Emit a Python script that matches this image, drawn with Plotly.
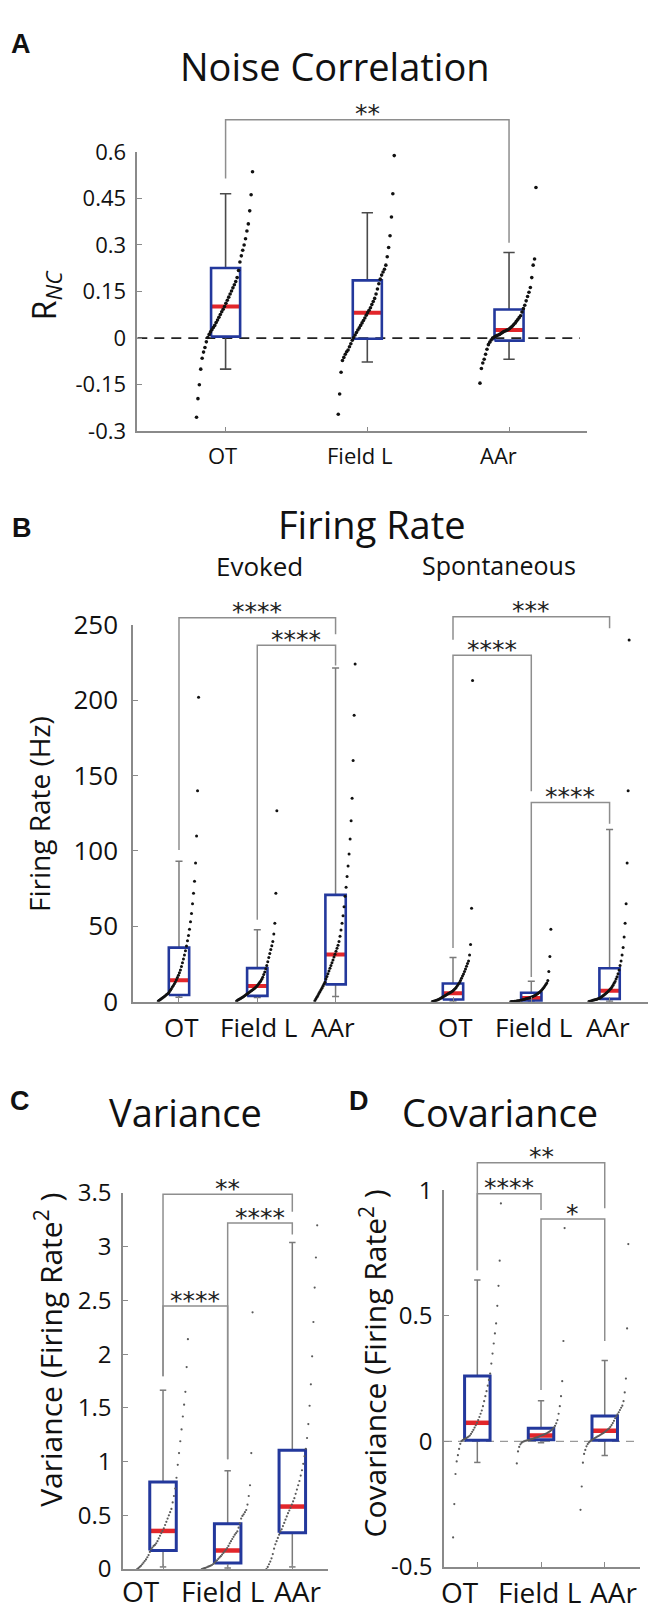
import plotly.graph_objects as go

# ============================ DATA ============================
categories = ["OT", "Field L", "AAr"]
fr_conditions = ["Evoked", "Spontaneous"]

nc_ticks = [-0.3, -0.15, 0, 0.15, 0.3, 0.45, 0.6]
nc_ticklabels = ["-0.3", "-0.15", "0", "0.15", "0.3", "0.45", "0.6"]
fr_ticks = [0, 50, 100, 150, 200, 250]
fr_ticklabels = ["0", "50", "100", "150", "200", "250"]
var_ticks = [0, 0.5, 1, 1.5, 2, 2.5, 3, 3.5]
var_ticklabels = ["0", "0.5", "1", "1.5", "2", "2.5", "3", "3.5"]
cov_ticks = [-0.5, 0, 0.5, 1]
cov_ticklabels = ["-0.5", "0", "0.5", "1"]

# ---- A: noise correlation (box statistics per region) ----
nc_q1 = [0.005, -0.002, -0.008]
nc_median = [0.102, 0.082, 0.026]
nc_q3 = [0.226, 0.186, 0.092]
nc_lower = [-0.100, -0.077, -0.068]
nc_upper = [0.465, 0.404, 0.276]
# sorted pair values (dotted curves)
nc_OT = [-0.255, -0.195, -0.150, -0.100, -0.065, -0.045, -0.030, -0.012, 0.002, 0.012, 0.020,
         0.027, 0.034, 0.041, 0.050, 0.058, 0.067, 0.076, 0.085, 0.093, 0.102, 0.112, 0.122,
         0.132, 0.142, 0.152, 0.162, 0.172, 0.182, 0.195, 0.218, 0.245, 0.265, 0.283, 0.300,
         0.320, 0.345, 0.368, 0.410, 0.462, 0.536]
nc_FieldL = [-0.245, -0.180, -0.110, -0.072, -0.062, -0.052, -0.044, -0.038, -0.028, -0.018,
             -0.007, 0.002, 0.010, 0.018, 0.026, 0.033, 0.041, 0.049, 0.057, 0.065, 0.074, 0.082,
             0.090, 0.098, 0.108, 0.118, 0.128, 0.142, 0.158, 0.175, 0.190, 0.203, 0.213, 0.222,
             0.235, 0.262, 0.292, 0.330, 0.390, 0.465, 0.588]
nc_AAr = [-0.145, -0.098, -0.080, -0.068, -0.052, -0.036, -0.021, -0.013, -0.006, 0.000, 0.003,
          0.006, 0.008, 0.010, 0.012, 0.015, 0.018, 0.021, 0.023, 0.025, 0.027, 0.030, 0.034,
          0.038, 0.043, 0.048, 0.054, 0.060, 0.066, 0.072, 0.084, 0.095, 0.106, 0.120, 0.134,
          0.148, 0.163, 0.195, 0.235, 0.255, 0.485]
nc_sig = ["**"]

# ---- B: firing rate (Evoked OT, Field L, AAr, Spontaneous OT, Field L, AAr) ----
fr_q1 = [4.5, 3.9, 11.5, 1.5, 0.7, 1.9]
fr_median = [14.3, 10.4, 31.3, 5.6, 2.4, 7.3]
fr_q3 = [35.9, 22.3, 70.9, 12.1, 6.0, 22.2]
fr_lower = [3.0, 2.8, 3.4, 0.5, 0.3, 0.4]
fr_upper = [93.2, 47.8, 221.3, 29.4, 13.6, 114.3]
fr_ev_OT = [0.5, 1.0, 1.5, 2.0, 2.5, 3.0, 3.5, 4.0, 4.6, 5.1, 5.7, 6.6, 7.6, 8.6, 9.7, 10.8, 11.9,
            13.1, 14.5, 16.0, 17.5, 19.2, 21.0, 23.3, 25.8, 28.4, 31.0, 33.8, 37.0, 40.5, 44.0,
            48.0, 53.0, 58.5, 65.0, 72.0, 80.0, 92.0, 110.0, 140.0, 202.0]
fr_ev_FieldL = [0.5, 1.0, 1.4, 1.8, 2.2, 2.6, 3.0, 3.4, 3.9, 4.4, 5.0, 5.5, 6.0, 6.5, 7.0, 7.5,
                8.0, 8.5, 8.9, 9.6, 10.3, 11.1, 12.0, 12.9, 13.8, 14.9, 16.3, 18.0, 19.8, 21.8,
                24.0, 26.6, 29.4, 32.0, 34.6, 37.2, 40.0, 45.0, 52.0, 72.0, 126.7]
fr_ev_AAr = [0.6, 1.8, 3.0, 4.2, 5.4, 6.6, 7.8, 9.0, 10.3, 11.6, 13.0, 15.0, 16.8, 18.6, 20.4,
             22.2, 24.0, 25.8, 27.7, 29.7, 31.5, 33.5, 35.5, 37.5, 40.0, 43.5, 47.5, 52.0, 57.0,
             63.0, 70.0, 76.0, 83.0, 90.0, 98.0, 108.0, 120.0, 135.0, 160.0, 190.0, 224.0]
fr_sp_OT = [0.1, 0.3, 0.5, 0.7, 0.9, 1.2, 1.5, 1.8, 2.2, 2.6, 3.0, 3.4, 3.8, 4.2, 4.6, 5.0, 5.4,
            5.8, 6.2, 6.6, 7.0, 7.6, 8.3, 9.0, 9.8, 10.7, 11.7, 12.8, 14.0, 15.5, 17.0, 18.4,
            20.0, 21.7, 23.5, 25.3, 27.0, 31.0, 38.0, 62.0, 213.0]
fr_sp_FieldL = [0.0, 0.1, 0.15, 0.2, 0.3, 0.4, 0.5, 0.6, 0.7, 0.8, 0.9, 1.1, 1.3, 1.5, 1.7, 1.9,
                2.1, 2.3, 2.5, 2.7, 2.9, 3.2, 3.5, 3.8, 4.1, 4.5, 4.9, 5.4, 5.9, 6.5, 7.1, 7.8,
                8.6, 9.5, 10.5, 11.5, 12.5, 14.0, 20.0, 30.0, 48.0]
fr_sp_AAr = [0.1, 0.3, 0.5, 0.7, 0.9, 1.1, 1.3, 1.5, 1.7, 1.9, 2.1, 2.5, 2.9, 3.4, 3.9, 4.4, 5.0,
             5.6, 6.2, 6.8, 7.4, 8.2, 9.0, 10.0, 11.0, 12.2, 13.5, 15.0, 16.5, 18.5, 21.0, 24.0,
             27.0, 31.0, 36.0, 43.0, 52.0, 65.0, 92.0, 140.0, 240.0]
fr_sig = ["****", "****", "***", "****", "****"]

# ---- C: variance ----
var_q1 = [0.173, 0.057, 0.339]
var_median = [0.355, 0.173, 0.582]
var_q3 = [0.81, 0.421, 1.107]
var_lower = [0.02, 0.01, 0.02]
var_upper = [1.665, 0.915, 3.04]
var_OT = [0.00, 0.01, 0.02, 0.03, 0.045, 0.06, 0.075, 0.09, 0.11, 0.13, 0.16, 0.185, 0.20, 0.215,
          0.225, 0.24, 0.26, 0.285, 0.31, 0.335, 0.355, 0.38, 0.41, 0.44, 0.47, 0.50, 0.53, 0.56,
          0.62, 0.68, 0.75, 0.85, 0.97, 1.08, 1.19, 1.30, 1.42, 1.53, 1.65, 1.88, 2.14]
var_FieldL = [0.00, 0.004, 0.008, 0.012, 0.017, 0.022, 0.027, 0.032, 0.038, 0.047, 0.058, 0.07,
              0.082, 0.095, 0.108, 0.12, 0.135, 0.15, 0.165, 0.18, 0.196, 0.215, 0.24, 0.26, 0.28,
              0.30, 0.32, 0.335, 0.35, 0.385, 0.425, 0.47, 0.495, 0.51, 0.53, 0.55, 0.60, 0.68,
              0.78, 1.08, 2.39]
var_AAr = [0.00, 0.02, 0.045, 0.07, 0.10, 0.14, 0.19, 0.23, 0.26, 0.29, 0.32, 0.35, 0.37, 0.40,
           0.43, 0.46, 0.49, 0.52, 0.545, 0.57, 0.60, 0.63, 0.66, 0.70, 0.74, 0.78, 0.82, 0.87,
           0.92, 0.98, 1.05, 1.12, 1.22, 1.35, 1.52, 1.72, 1.98, 2.30, 2.62, 2.90, 3.20]
var_sig = ["**", "****", "****"]

# ---- D: covariance ----
cov_q1 = [0.004, 0.006, 0.004]
cov_median = [0.074, 0.023, 0.042]
cov_q3 = [0.26, 0.052, 0.101]
cov_lower = [-0.084, -0.006, -0.056]
cov_upper = [0.643, 0.162, 0.322]
cov_OT = [-0.383, -0.25, -0.13, -0.08, -0.055, -0.03, -0.01, 0.001, 0.005, 0.008, 0.010, 0.013,
          0.016, 0.019, 0.023, 0.030, 0.038, 0.046, 0.055, 0.064, 0.074, 0.085, 0.097, 0.11,
          0.123, 0.14, 0.16, 0.18, 0.20, 0.222, 0.245, 0.27, 0.31, 0.35, 0.39, 0.43, 0.47, 0.54,
          0.62, 0.72, 0.948]
cov_FieldL = [-0.088, -0.04, -0.022, -0.012, -0.006, -0.002, 0.000, 0.002, 0.003, 0.004, 0.005,
              0.006, 0.008, 0.009, 0.011, 0.013, 0.015, 0.016, 0.018, 0.020, 0.022, 0.024, 0.026,
              0.028, 0.030, 0.032, 0.035, 0.038, 0.041, 0.045, 0.050, 0.055, 0.062, 0.072, 0.085,
              0.11, 0.14, 0.18, 0.24, 0.40, 0.85]
cov_AAr = [-0.273, -0.18, -0.085, -0.05, -0.034, -0.02, -0.011, -0.005, 0.000, 0.004, 0.007,
           0.010, 0.013, 0.016, 0.019, 0.021, 0.024, 0.027, 0.030, 0.033, 0.036, 0.040, 0.044,
           0.048, 0.052, 0.058, 0.065, 0.073, 0.082, 0.092, 0.100, 0.108, 0.116, 0.125, 0.134,
           0.142, 0.16, 0.195, 0.25, 0.45, 0.786]
cov_sig = ["**", "****", "*"]

# ============================ LAYOUT / STYLE ============================
W, H = 656, 1612
FONT = "Open Sans"
STAR_FONT = "DejaVu Sans"
BLUE = "#23389c"
RED = "#e2262b"
AXIS_GREY = "#8a8a8a"
BRACKET_GREY = "#8e8e8e"


def fx(p):
    return p / W


def fy(p):
    return 1 - p / H


PANELS = [
    dict(x="x", y="y", ye="y5", xdom=(129.3, 578.7), xr=(0.377, 3.548),
         ydom=(127.7, 413.5), yr=(-0.3, 0.6), ext_top=85,
         ticks=nc_ticks, ticklabels=nc_ticklabels, tickfont=22, standoff=5,
         pos=[1, 2, 3], q1=nc_q1, med=nc_median, q3=nc_q3, lo=nc_lower, hi=nc_upper,
         pts=[nc_OT, nc_FieldL, nc_AAr], dot_off=(-0.205, 0.19), box_w=0.205, cap_hw=0.04,
         whisk_col="#4a4a4a", whisk_w=1.6, box_lw=2.6, med_lw=4,
         dot_col="#111111", dot_size=3.6, zero=dict(color="#222222", dash="10px,7px", width=1.6),
         brackets=[(1, 3, 0.703, 0.514, 0.307)], sig=nc_sig),
    dict(x="x2", y="y2", ye="y6", xdom=(125.0, 644.4), xr=(0.4125, 7.047),
         ydom=(611.5, 997.0), yr=(0, 250), ext_top=595,
         ticks=fr_ticks, ticklabels=fr_ticklabels, tickfont=26, standoff=8,
         pos=[1, 2, 3, 4.5, 5.5, 6.5], q1=fr_q1, med=fr_median, q3=fr_q3, lo=fr_lower, hi=fr_upper,
         pts=[fr_ev_OT, fr_ev_FieldL, fr_ev_AAr, fr_sp_OT, fr_sp_FieldL, fr_sp_AAr],
         dot_off=(-0.265, 0.25), box_w=0.26, cap_hw=0.045,
         whisk_col="#7a7a7a", whisk_w=1.5, box_lw=2.6, med_lw=4,
         dot_col="#111111", dot_size=3.0, zero=None,
         brackets=[(1, 3, 254.7, 100.7, 243.8), (2, 3, 236.4, 54.3, 223.1),
                   (4.5, 6.5, 255.3, 240.1, 247.7), (4.5, 5.5, 229.8, 35.7, 139.6),
                   (5.5, 6.5, 132.1, 16.4, 118.0)], sig=fr_sig),
    dict(x="x3", y="y3", ye="y7", xdom=(115.0, 320.0), xr=(0.381, 3.552),
         ydom=(1192.7, 1577.3), yr=(0, 3.5), ext_top=1180,
         ticks=var_ticks, ticklabels=var_ticklabels, tickfont=24, standoff=5,
         pos=[1, 2, 3], q1=var_q1, med=var_median, q3=var_q3, lo=var_lower, hi=var_upper,
         pts=[var_OT, var_FieldL, var_AAr], dot_off=(-0.40, 0.385), box_w=0.41, cap_hw=0.05,
         whisk_col="#7a7a7a", whisk_w=1.5, box_lw=3, med_lw=4.5,
         dot_col="#5a5a5a", dot_size=2.2, zero=None,
         brackets=[(1, 3, 3.488, 1.795, 3.327), (2, 3, 3.221, 1.022, 3.115),
                   (1, 2, 2.448, 1.795, 1.022)], sig=var_sig),
    dict(x="x4", y="y4", ye="y8", xdom=(436.0, 631.7), xr=(0.477, 3.549),
         ydom=(1190.0, 1575.0), yr=(-0.5, 1.0), ext_top=1150,
         ticks=cov_ticks, ticklabels=cov_ticklabels, tickfont=24, standoff=5,
         pos=[1, 2, 3], q1=cov_q1, med=cov_median, q3=cov_q3, lo=cov_lower, hi=cov_upper,
         pts=[cov_OT, cov_FieldL, cov_AAr], dot_off=(-0.38, 0.37), box_w=0.40, cap_hw=0.05,
         whisk_col="#7a7a7a", whisk_w=1.5, box_lw=3, med_lw=4.5,
         dot_col="#5a5a5a", dot_size=2.2, zero=dict(color="#9a9a9a", dash="8px,6px", width=1.3),
         brackets=[(1, 3, 1.110, 0.682, 0.929), (1, 2, 0.987, 0.682, 0.922),
                   (2, 3, 0.886, 0.205, 0.400)], sig=cov_sig),
]

fig = go.Figure()
layout_axes = {}
annotations = []


def akey(prefix, ref):
    return prefix + ref[1:]


for P in PANELS:
    xa, ya, ye = P["x"], P["y"], P["ye"]
    y_top, y_bot = P["ydom"]
    r0, r1 = P["yr"]
    per_px = (r1 - r0) / (y_bot - y_top)
    ext_r1 = r1 + (y_top - P["ext_top"]) * per_px

    layout_axes[akey("xaxis", xa)] = dict(
        domain=[fx(P["xdom"][0]), fx(P["xdom"][1])], range=list(P["xr"]), anchor=ya,
        showline=True, linecolor=AXIS_GREY, linewidth=1.5, showgrid=False, zeroline=False,
        ticks="inside", ticklen=5, tickcolor=AXIS_GREY, tickwidth=1.2,
        tickvals=P["pos"], showticklabels=False, fixedrange=True)
    layout_axes[akey("yaxis", ya)] = dict(
        domain=[fy(y_bot), fy(y_top)], range=[r0, r1], anchor=xa,
        showline=True, linecolor=AXIS_GREY, linewidth=1.5, showgrid=False, zeroline=False,
        ticks="inside", ticklen=5, tickcolor=AXIS_GREY, tickwidth=1.2,
        tickvals=P["ticks"], ticktext=P["ticklabels"], ticklabelstandoff=P["standoff"],
        tickfont=dict(family=FONT, size=P["tickfont"], color="#111111"), fixedrange=True)
    layout_axes[akey("yaxis", ye)] = dict(
        domain=[fy(y_bot), fy(P["ext_top"])], range=[r0, ext_r1], anchor=xa,
        visible=False, showgrid=False, zeroline=False, fixedrange=True)

    # zero reference line
    if P["zero"] is not None:
        z = P["zero"]
        fig.add_trace(go.Scatter(x=[P["xr"][0], 3.5], y=[0, 0], mode="lines", xaxis=xa, yaxis=ya,
                                 line=dict(color=z["color"], dash=z["dash"], width=z["width"]),
                                 hoverinfo="skip", showlegend=False))

    hw = P["box_w"] / 2
    cw = P["cap_hw"]
    wx, wy, bx, by, mx, my, dx, dy = [], [], [], [], [], [], [], []
    for i, c in enumerate(P["pos"]):
        q1, med, q3, lo, hi = P["q1"][i], P["med"][i], P["q3"][i], P["lo"][i], P["hi"][i]
        wx += [c, c, None, c, c, None, c - cw, c + cw, None, c - cw, c + cw, None]
        wy += [q3, hi, None, lo, q1, None, hi, hi, None, lo, lo, None]
        bx += [c - hw, c + hw, c + hw, c - hw, c - hw, None]
        by += [q1, q1, q3, q3, q1, None]
        mx += [c - hw, c + hw, None]
        my += [med, med, None]
        vals = P["pts"][i]
        n = len(vals)
        o0, o1 = P["dot_off"]
        for k, v in enumerate(vals):
            dx.append(c + o0 + (o1 - o0) * k / (n - 1))
            dy.append(v)

    fig.add_trace(go.Scatter(x=wx, y=wy, mode="lines", xaxis=xa, yaxis=ya,
                             line=dict(color=P["whisk_col"], width=P["whisk_w"]),
                             hoverinfo="skip", showlegend=False))
    fig.add_trace(go.Scatter(x=mx, y=my, mode="lines", xaxis=xa, yaxis=ya,
                             line=dict(color=RED, width=P["med_lw"]),
                             hoverinfo="skip", showlegend=False))
    fig.add_trace(go.Scatter(x=bx, y=by, mode="lines", xaxis=xa, yaxis=ya,
                             line=dict(color=BLUE, width=P["box_lw"]),
                             hoverinfo="skip", showlegend=False))
    fig.add_trace(go.Scatter(x=dx, y=dy, mode="markers", xaxis=xa, yaxis=ya,
                             marker=dict(color=P["dot_col"], size=P["dot_size"], line=dict(width=0)),
                             hoverinfo="skip", showlegend=False))

    # significance brackets
    kx, ky = [], []
    for (a, b, bar, e1, e2), lab in zip(P["brackets"], P["sig"]):
        kx += [a, a, b, b, None]
        ky += [e1, bar, bar, e2, None]
        annotations.append(dict(text=lab, x=(a + b) / 2, y=bar, xref=xa, yref=ye,
                                xanchor="center", yanchor="middle", yshift=6, showarrow=False,
                                font=dict(family=STAR_FONT, size=25, color="#222222")))
    fig.add_trace(go.Scatter(x=kx, y=ky, mode="lines", xaxis=xa, yaxis=ye,
                             line=dict(color=BRACKET_GREY, width=1.5),
                             hoverinfo="skip", showlegend=False))


def text(t, xp, yp, size, bold=False, angle=0, family=FONT, color="#111111"):
    annotations.append(dict(text=("<b>%s</b>" % t) if bold else t, x=fx(xp), y=fy(yp),
                            xref="paper", yref="paper", xanchor="center", yanchor="middle",
                            textangle=angle, showarrow=False,
                            font=dict(family=family, size=size, color=color)))


# panel letters
for lab, xp, yp in [("A", 12.5, 17.5), ("B", 13.5, 512.5), ("C", 11.5, 1099), ("D", 351.5, 1098.5)]:
    text(lab, xp, yp, 27, bold=True, family="Liberation Sans")

# titles
text("Noise Correlation", 327.4, 40, 38)
text("Firing Rate", 363.9, 508.3, 38)
text(fr_conditions[0], 251, 551, 26)
text(fr_conditions[1], 490.8, 550.5, 25)
text("Variance", 177, 1109.5, 38)
text("Covariance", 491.7, 1109.5, 38)

# y-axis titles
text("R<sub><i>NC</i></sub>", 38, 274.5, 32, angle=-90)
text("Firing Rate (Hz)", 31, 805, 28, angle=-90)
text("Variance (Firing Rate<sup>2</sup> )", 41, 1353, 30, angle=-90)
text("Covariance (Firing Rate<sup>2</sup> )", 366, 1367, 30, angle=-90)

# category labels
for lab, xp in zip(categories, [214.6, 351.5, 490.6]):
    text(lab, xp, 437.8, 22)
for lab, xp in zip(categories + categories, [173, 250, 324.7, 447.7, 525, 600.4]):
    text(lab, xp, 1023.3, 26)
for lab, xp in zip(categories, [133.3, 214, 289.2]):
    text(lab, xp, 1600, 28)
for lab, xp in zip(categories, [451.7, 531, 605.3]):
    text(lab, xp, 1601, 28)

fig.update_layout(
    width=W, height=H, autosize=False,
    margin=dict(l=0, r=0, t=0, b=0),
    paper_bgcolor="white", plot_bgcolor="rgba(0,0,0,0)",
    showlegend=False, annotations=annotations,
    **layout_axes,
)

fig.write_html("out.html")
